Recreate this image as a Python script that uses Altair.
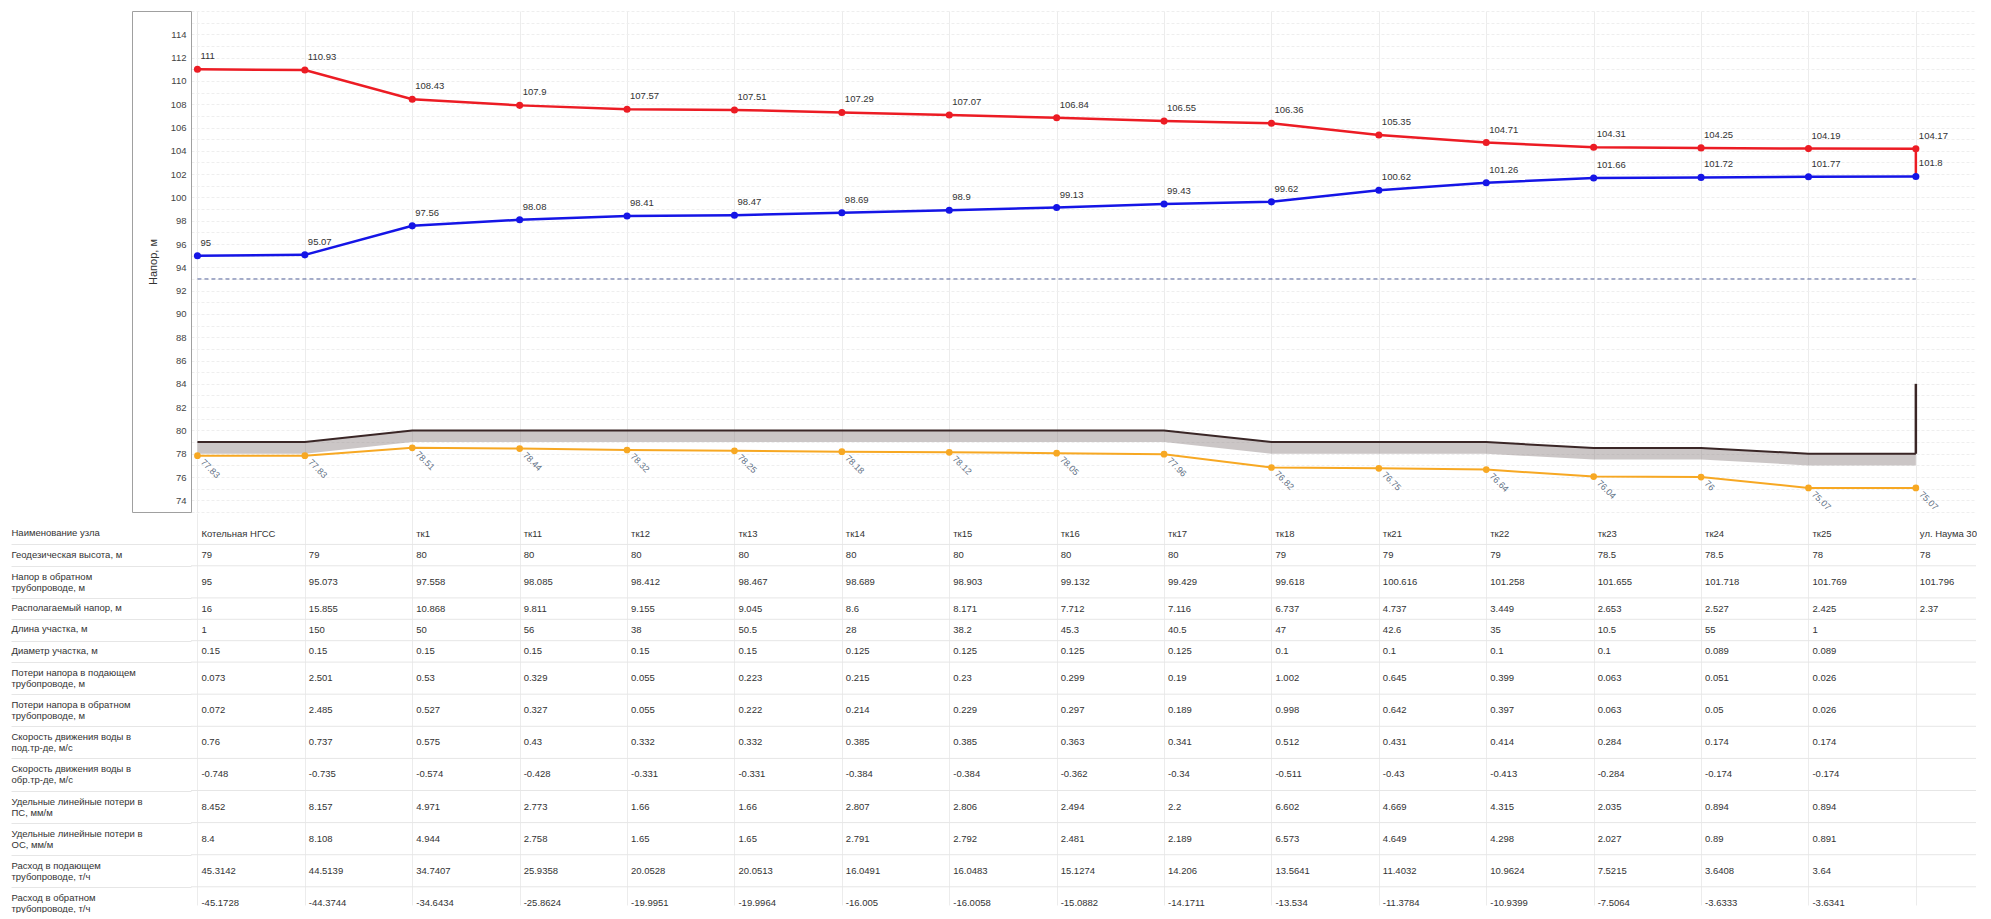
import json
import altair as alt
import pandas as pd

# ---------------- data ----------------
nodes = ["Котельная НГСС", "", "тк1", "тк11", "тк12", "тк13", "тк14", "тк15", "тк16",
         "тк17", "тк18", "тк21", "тк22", "тк23", "тк24", "тк25", "ул. Наума 30"]
supply_head = [111, 110.93, 108.43, 107.9, 107.57, 107.51, 107.29, 107.07, 106.84,
               106.55, 106.36, 105.35, 104.71, 104.31, 104.25, 104.19, 104.17]
return_head_lbl = [95, 95.07, 97.56, 98.08, 98.41, 98.47, 98.69, 98.9, 99.13,
                   99.43, 99.62, 100.62, 101.26, 101.66, 101.72, 101.77, 101.8]
orange_head = [77.83, 77.83, 78.51, 78.44, 78.32, 78.25, 78.18, 78.12, 78.05,
               77.96, 76.82, 76.75, 76.64, 76.04, 76, 75.07, 75.07]
geo_height = [79, 79, 80, 80, 80, 80, 80, 80, 80, 80, 79, 79, 79, 78.5, 78.5, 78, 78]
static_head = 93
building_top = 84

return_head = [95, 95.073, 97.558, 98.085, 98.412, 98.467, 98.689, 98.903, 99.132,
               99.429, 99.618, 100.616, 101.258, 101.655, 101.718, 101.769, 101.796]
avail_head = [16, 15.855, 10.868, 9.811, 9.155, 9.045, 8.6, 8.171, 7.712, 7.116,
              6.737, 4.737, 3.449, 2.653, 2.527, 2.425, 2.37]
seg_length = [1, 150, 50, 56, 38, 50.5, 28, 38.2, 45.3, 40.5, 47, 42.6, 35, 10.5, 55, 1, None]
seg_diam = [0.15, 0.15, 0.15, 0.15, 0.15, 0.15, 0.125, 0.125, 0.125, 0.125, 0.1, 0.1,
            0.1, 0.1, 0.089, 0.089, None]
loss_supply = [0.073, 2.501, 0.53, 0.329, 0.055, 0.223, 0.215, 0.23, 0.299, 0.19, 1.002,
               0.645, 0.399, 0.063, 0.051, 0.026, None]
loss_return = [0.072, 2.485, 0.527, 0.327, 0.055, 0.222, 0.214, 0.229, 0.297, 0.189, 0.998,
               0.642, 0.397, 0.063, 0.05, 0.026, None]
vel_supply = [0.76, 0.737, 0.575, 0.43, 0.332, 0.332, 0.385, 0.385, 0.363, 0.341, 0.512,
              0.431, 0.414, 0.284, 0.174, 0.174, None]
vel_return = [-0.748, -0.735, -0.574, -0.428, -0.331, -0.331, -0.384, -0.384, -0.362, -0.34,
              -0.511, -0.43, -0.413, -0.284, -0.174, -0.174, None]
spec_loss_supply = [8.452, 8.157, 4.971, 2.773, 1.66, 1.66, 2.807, 2.806, 2.494, 2.2, 6.602,
                    4.669, 4.315, 2.035, 0.894, 0.894, None]
spec_loss_return = [8.4, 8.108, 4.944, 2.758, 1.65, 1.65, 2.791, 2.792, 2.481, 2.189, 6.573,
                    4.649, 4.298, 2.027, 0.89, 0.891, None]
flow_supply = [45.3142, 44.5139, 34.7407, 25.9358, 20.0528, 20.0513, 16.0491, 16.0483,
               15.1274, 14.206, 13.5641, 11.4032, 10.9624, 7.5215, 3.6408, 3.64, None]
flow_return = [-45.1728, -44.3744, -34.6434, -25.8624, -19.9951, -19.9964, -16.005, -16.0058,
               -15.0882, -14.1711, -13.534, -11.3784, -10.9399, -7.5064, -3.6333, -3.6341, None]

row_labels = [
    "Наименование узла",
    "Геодезическая высота, м",
    "Напор в обратном\nтрубопроводе, м",
    "Располагаемый напор, м",
    "Длина участка, м",
    "Диаметр участка, м",
    "Потери напора в подающем\nтрубопроводе, м",
    "Потери напора в обратном\nтрубопроводе, м",
    "Скорость движения воды в\nпод.тр-де, м/с",
    "Скорость движения воды в\nобр.тр-де, м/с",
    "Удельные линейные потери в\nПС, мм/м",
    "Удельные линейные потери в\nОС, мм/м",
    "Расход в подающем\nтрубопроводе, т/ч",
    "Расход в обратном\nтрубопроводе, т/ч",
]
row_values = [nodes, geo_height, return_head, avail_head, seg_length, seg_diam,
              loss_supply, loss_return, vel_supply, vel_return, spec_loss_supply,
              spec_loss_return, flow_supply, flow_return]


def fmt(v):
    if v is None:
        return None
    if isinstance(v, str):
        return v
    if float(v).is_integer():
        return str(int(v))
    return str(v)


# ---------------- plot data ----------------
n = len(nodes)
idx = list(range(n))
df = pd.DataFrame({
    "i": idx,
    "supply": supply_head,
    "supply_lbl": [fmt(v) for v in supply_head],
    "ret": return_head_lbl,
    "ret_lbl": [fmt(v) for v in return_head_lbl],
    "orange": orange_head,
    "orange_lbl": [fmt(v) for v in orange_head],
    "ground": geo_height,
})
end_df = pd.DataFrame({"i": [idx[-1]], "s": [supply_head[-1]], "r": [return_head_lbl[-1]],
                       "g": [geo_height[-1]], "top": [building_top]})
static_df = pd.DataFrame({"x0": [idx[0]], "x1": [idx[-1]], "h": [static_head]})

RED = "#ec1c24"
BLUE = "#1515e6"
ORANGE = "#f7a823"
FRAME = "#a0a0a0"
FONT = "Liberation Sans"

W = 1785
Y_LO, Y_HI = 73, 116
xs = alt.Scale(domain=[-0.06, 16.56], nice=False, zero=False)
ys = alt.Scale(domain=[Y_LO, Y_HI], nice=False, zero=False)
x_axis = alt.Axis(values=idx, labels=False, ticks=False, domain=False, title=None,
                  grid=True, gridColor="#ececec")
y_axis = alt.Axis(values=list(range(Y_LO, Y_HI + 1)),
                  labelExpr="datum.value % 2 == 0 && datum.value >= 74 && datum.value <= 114 ? datum.label : ''",
                  orient="left", ticks=False, domainColor=FRAME, labelFontSize=9.5,
                  labelColor="#444", labelPadding=5, grid=True, gridColor="#eeeeee",
                  gridDash=[3, 2], title="Напор, м", titleFontSize=11,
                  titleFontWeight="normal", titleColor="#333", titlePadding=12)
# frame around the axis panel: top/bottom edges drawn as long ticks, left edge as a domain line
frame_tb_axis = alt.Axis(values=[Y_LO, Y_HI], orient="left", labels=False, domain=False,
                         ticks=True, tickSize=59, tickColor=FRAME, grid=False, title=None)
frame_left_axis = alt.Axis(orient="left", offset=59, labels=False, ticks=False, domain=True,
                           domainColor=FRAME, grid=False, title=None)


def X(f="i"):
    return alt.X(f"{f}:Q", scale=xs, axis=x_axis)


def Y(f, axis=None):
    return alt.Y(f"{f}:Q", scale=ys, axis=axis)


base = alt.Chart(df)

band = base.transform_calculate(glow="datum.ground - 1").mark_area(
    color="#8c8080", opacity=0.45).encode(x=X(), y=Y("glow"), y2="ground:Q")
ground_line = base.mark_line(color="#3a2626", strokeWidth=2).encode(x=X(), y=Y("ground"))
building = alt.Chart(end_df).mark_rule(color="#3a2626", strokeWidth=2.5).encode(
    x=X(), y=Y("g"), y2="top:Q")
static_line = alt.Chart(static_df).mark_rule(color="#51609a", strokeWidth=1,
                                             strokeDash=[4, 3]).encode(
    x=X("x0"), x2="x1:Q", y=Y("h"))

orange_line = base.mark_line(color=ORANGE, strokeWidth=2).encode(x=X(), y=Y("orange"))
orange_pts = base.mark_circle(color=ORANGE, size=45, opacity=1).encode(x=X(), y=Y("orange"))
orange_txt = base.mark_text(align="left", baseline="middle", angle=45, dx=7, fontSize=9,
                            color="#5f7185").encode(x=X(), y=Y("orange"), text="orange_lbl:N")

blue_line = base.mark_line(color=BLUE, strokeWidth=2.5).encode(x=X(), y=Y("ret"))
blue_pts = base.mark_circle(color=BLUE, size=50, opacity=1).encode(x=X(), y=Y("ret"))
blue_txt = base.mark_text(align="left", baseline="middle", dx=3, dy=-13, fontSize=9.5,
                          color="#333").encode(x=X(), y=Y("ret"), text="ret_lbl:N")

red_line = base.mark_line(color=RED, strokeWidth=2.5).encode(x=X(), y=Y("supply", y_axis))
red_end = alt.Chart(end_df).mark_rule(color=RED, strokeWidth=2.5).encode(
    x=X(), y=Y("s"), y2="r:Q")
red_pts = base.mark_circle(color=RED, size=50, opacity=1).encode(x=X(), y=Y("supply"))
red_txt = base.mark_text(align="left", baseline="middle", dx=3, dy=-13, fontSize=9.5,
                         color="#333").encode(x=X(), y=Y("supply"), text="supply_lbl:N")

frame_a = base.mark_point(opacity=0).encode(x=X(), y=Y("supply", frame_tb_axis))
frame_b = base.mark_point(opacity=0).encode(x=X(), y=Y("supply", frame_left_axis))

plot = alt.layer(red_line, frame_a, frame_b, band, ground_line, building, static_line,
                 orange_line, orange_pts, orange_txt, blue_line, red_end, blue_pts,
                 blue_txt, red_pts, red_txt).resolve_axis(y="independent").properties(
    width=W, height=501)

# ---------------- table ----------------
heights = [1.0 if "\n" not in lbl else 1.5 for lbl in row_labels]
centers, edges = [], []
top = 0.0
for h in heights:
    edges.append(top - 0.5)
    centers.append(top + h / 2 - 0.5)
    top += h
two_line = [c for c, lbl in zip(centers, row_labels) if "\n" in lbl]

cells = []
for r, vals in enumerate(row_values):
    for c, v in enumerate(vals):
        t = fmt(v)
        if t:
            cells.append({"col": c, "pos": centers[r], "txt": t})
cells_df = pd.DataFrame(cells)
edges_df = pd.DataFrame({"edge": edges[1:]})

lab_js = json.dumps(["|".join(l.split("\n")) for l in row_labels], ensure_ascii=False)
cen_js = json.dumps(centers)
two_js = json.dumps(two_line)
ty_scale = alt.Scale(domain=[-0.967, 17.35], reverse=True, nice=False, zero=False)
ty_axis = alt.Axis(values=centers,
                   labelExpr=f"split({lab_js}[indexof({cen_js}, datum.value)], '|')",
                   orient="left", ticks=False, tickSize=0, domain=False, grid=False,
                   labelAlign="left", labelBaseline="middle", labelPadding=180,
                   labelFontSize=9.5, labelColor="#333", labelLimit=300, labelLineHeight=11,
                   labelOffset={"condition": {"test": f"indexof({two_js}, datum.value) >= 0",
                                              "value": -5.5},
                                "value": -1},
                   labelOverlap=False, title=None)
sep_axis = alt.Axis(values=edges[1:], orient="left", labels=False, domain=False, ticks=True,
                    tickSize=180, tickColor="#e6e6e6", grid=False, title=None)
tx_axis = alt.Axis(values=idx, labels=False, ticks=False, domain=False, title=None,
                   grid=True, gridColor="#ececec")

sep = alt.Chart(edges_df).mark_rule(color="#e6e6e6", strokeWidth=1).encode(
    y=alt.Y("edge:Q", scale=ty_scale, axis=sep_axis))
cell_txt = alt.Chart(cells_df).mark_text(align="left", baseline="middle", dx=4,
                                         fontSize=9.5, color="#333").encode(
    x=alt.X("col:Q", scale=xs, axis=tx_axis),
    y=alt.Y("pos:Q", scale=ty_scale, axis=ty_axis),
    text="txt:N")

table = alt.layer(sep, cell_txt).resolve_axis(y="independent").properties(width=W, height=392)

chart = alt.vconcat(plot, table, spacing=0).properties(
    padding={"left": 2, "top": 2, "right": 0, "bottom": 0}
).configure(font=FONT).configure_view(stroke=None)

chart.save("out.html", embed_options={"renderer": "svg", "actions": False})
